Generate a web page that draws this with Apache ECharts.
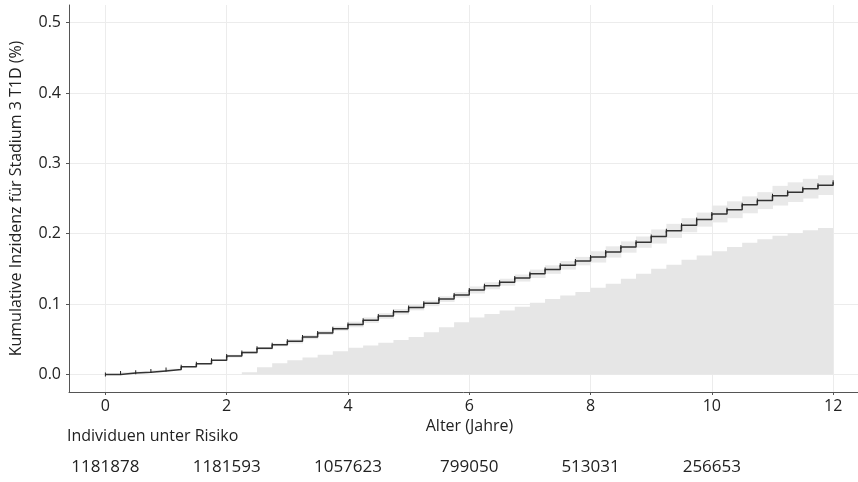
<!DOCTYPE html>
<html>
<head>
<meta charset="utf-8">
<script src="https://cdn.jsdelivr.net/npm/echarts@6/dist/echarts.min.js"></script>
<style>
html,body{margin:0;padding:0;background:#fff;}
#main{width:858px;height:482px;}
</style>
</head>
<body>
<div id="main"></div>
<script>
// Time points (years), quarterly steps
const times = [0,0.25,0.5,0.75,1,1.25,1.5,1.75,2,2.25,2.5,2.75,3,3.25,3.5,3.75,4,4.25,4.5,4.75,5,5.25,5.5,5.75,6,6.25,6.5,6.75,7,7.25,7.5,7.75,8,8.25,8.5,8.75,9,9.25,9.5,9.75,10,10.25,10.5,10.75,11,11.25,11.5,11.75,12];
// Cumulative incidence estimate (%)
const estimate = [0.000,0.002,0.003,0.005,0.007,0.011,0.015,0.020,0.026,0.031,0.037,0.042,0.047,0.053,0.059,0.065,0.071,0.077,0.083,0.089,0.095,0.101,0.107,0.113,0.120,0.126,0.131,0.137,0.143,0.149,0.155,0.161,0.167,0.174,0.181,0.188,0.196,0.204,0.212,0.220,0.228,0.234,0.241,0.247,0.254,0.259,0.264,0.269,0.273];
// Confidence band half-width
const ciHalf = [0.001,0.001,0.001,0.001,0.001,0.001,0.001,0.001,0.002,0.002,0.002,0.002,0.003,0.003,0.003,0.003,0.004,0.004,0.004,0.004,0.004,0.004,0.004,0.004,0.005,0.005,0.005,0.005,0.006,0.006,0.006,0.006,0.008,0.008,0.008,0.008,0.010,0.010,0.010,0.010,0.012,0.012,0.012,0.012,0.014,0.014,0.014,0.014,0.015];
// Second (grey filled) curve, starts at 2.25 years
const areaTimes = [2.25,2.5,2.75,3,3.25,3.5,3.75,4,4.25,4.5,4.75,5,5.25,5.5,5.75,6,6.25,6.5,6.75,7,7.25,7.5,7.75,8,8.25,8.5,8.75,9,9.25,9.5,9.75,10,10.25,10.5,10.75,11,11.25,11.5,11.75,12];
const areaValues = [0.003,0.010,0.016,0.020,0.024,0.028,0.033,0.038,0.041,0.045,0.049,0.053,0.060,0.067,0.074,0.081,0.086,0.091,0.096,0.102,0.107,0.112,0.117,0.123,0.129,0.136,0.143,0.150,0.156,0.163,0.169,0.175,0.181,0.187,0.192,0.197,0.201,0.205,0.208,0.210];
// Tick labels
const xTicks = [0,2,4,6,8,10,12];
const yTicks = [0,0.1,0.2,0.3,0.4,0.5];
// Risk table
const riskTimes = [0,2,4,6,8,10];
const riskCounts = ['1181878','1181593','1057623','799050','513031','256653'];

const FONT = '"Open Sans", "Noto Sans", sans-serif';
const TXT = '#222';

const chart = echarts.init(document.getElementById('main'), null, {renderer:'canvas'});

// band rows: [t_start, t_end, low, high]
const bandRows = times.slice(0, -1).map((t,i)=>[t, times[i+1], estimate[i]-ciHalf[i], estimate[i]+ciHalf[i]]);

chart.setOption({
  animation:false,
  backgroundColor:'#fff',
  grid:{left:69, right:0, top:5, bottom:90, containLabel:false},
  xAxis:{
    type:'value', min:-0.6, max:12.41,
    name:'Alter (Jahre)', nameLocation:'middle', nameGap:22,
    nameTextStyle:{fontFamily:FONT, fontSize:16, color:TXT, padding:[0,0,0,12]},
    axisLine:{show:true, onZero:false, lineStyle:{color:'#555', width:1}},
    axisTick:{show:true, length:3, customValues:xTicks, lineStyle:{color:'#555'}},
    axisLabel:{customValues:xTicks, margin:6, fontFamily:FONT, fontSize:16, color:TXT},
    splitLine:{show:true, lineStyle:{color:'#ececec', width:1}}
  },
  yAxis:{
    type:'value', min:-0.025, max:0.525,
    name:'Kumulative Inzidenz für Stadium 3 T1D (%)', nameLocation:'middle', nameGap:45, nameRotate:90,
    nameTextStyle:{fontFamily:FONT, fontSize:16, color:TXT},
    axisLine:{show:true, onZero:false, lineStyle:{color:'#555', width:1}},
    axisTick:{show:true, length:3, customValues:yTicks, lineStyle:{color:'#555'}},
    axisLabel:{customValues:yTicks, margin:8, fontFamily:FONT, fontSize:16, color:TXT,
      formatter:v=>v.toFixed(1)},
    splitLine:{show:true, lineStyle:{color:'#ececec', width:1}}
  },
  series:[
    {
      name:'area', type:'line', step:'end', showSymbol:false,
      data: areaTimes.map((t,i)=>[t, areaValues[i]]),
      lineStyle:{width:0}, areaStyle:{color:'#e6e6e6', opacity:1, origin:0},
      z:1
    },
    {
      name:'ciBand', type:'custom',
      data: bandRows,
      encode:{x:[0,1], y:[2,3]},
      renderItem:function(params, api){
        const p0 = api.coord([api.value(0), api.value(3)]);
        const p1 = api.coord([api.value(1), api.value(2)]);
        return {type:'rect', shape:{x:p0[0], y:p0[1], width:p1[0]-p0[0]+0.5, height:p1[1]-p0[1]},
          style:{fill:'#e9e9e9'}};
      },
      z:2
    },
    {
      name:'estimate', type:'line', step:'end',
      data: times.map((t,i)=>[t, estimate[i]]),
      showSymbol:true, symbol:'rect', symbolSize:[1,4],
      itemStyle:{color:'#222'},
      lineStyle:{color:'#333', width:1.5}, z:5
    }
  ]
});

const g = [{
  type:'text', left:67, top:428,
  style:{text:'Individuen unter Risiko', fontFamily:FONT, fontSize:16, fill:TXT}
}];
riskTimes.forEach((t,i)=>{
  const px = chart.convertToPixel({xAxisIndex:0}, t);
  g.push({type:'text', x:px, y:467,
    style:{text:riskCounts[i], fontFamily:FONT, fontSize:17, fill:TXT, align:'center', verticalAlign:'middle'}});
});
chart.setOption({graphic:g});
</script>
</body>
</html>
